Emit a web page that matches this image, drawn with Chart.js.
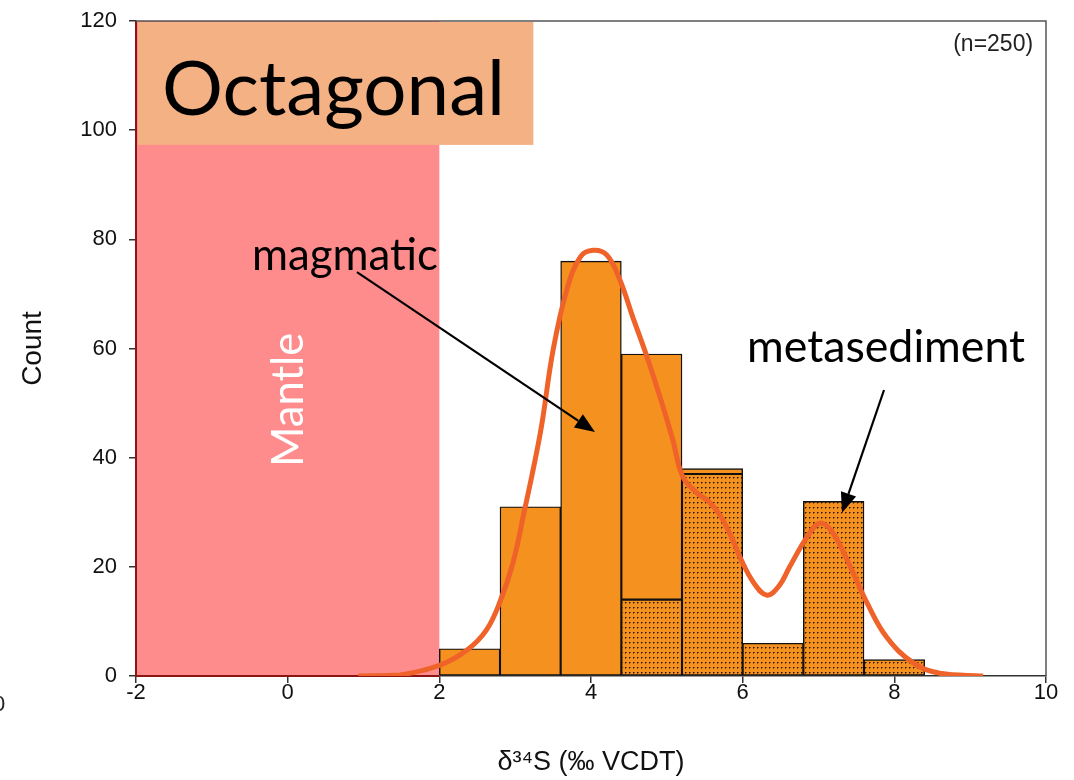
<!DOCTYPE html>
<html>
<head>
<meta charset="utf-8">
<script src="https://cdn.jsdelivr.net/npm/chart.js@4.4.1/dist/chart.umd.min.js"></script>
<style>
  html, body { margin: 0; padding: 0; background: #fff; }
  #wrap { width: 1074px; height: 780px; }
</style>
</head>
<body>
<div id="wrap"><canvas id="chart-octagonal" width="1074" height="780"></canvas></div>
<script>
// histogram, bins of 0.8 permil
const binCentres = [2.4, 3.2, 4.0, 4.8, 5.6, 6.4, 7.2, 8.0];
const countMetased = [null, null, null, 14, 37, 6, 32, 3];
const countMagmatic = [5, 31, 76, 45, 1, null, null, null];

// density curve
const curveX = [0.93, 1.48, 2.01, 2.37, 2.62, 2.80, 2.97, 3.13, 3.24, 3.35, 3.50, 3.68, 3.86, 4.03, 4.21, 4.38, 4.55, 4.74, 4.91, 5.08, 5.21, 5.40, 5.55, 5.70, 5.87, 5.97, 6.15, 6.32, 6.48, 6.62, 6.85, 7.02, 7.19, 7.42, 7.64, 7.90, 8.25, 8.60, 9.17];
const curveY = [0, 0.2, 2.0, 4.8, 8.4, 13.6, 20.7, 30.8, 38.0, 46.0, 59.7, 70.7, 76.8, 78, 77.1, 72.6, 65.8, 58.4, 51.1, 43.2, 36.5, 33.5, 32.0, 29.5, 24.9, 21.6, 17, 14.8, 16.5, 20, 25.5, 28, 26.2, 20, 13.4, 7.1, 2.4, 0.5, 0];

const xTicks = [-2, 0, 2, 4, 6, 8, 10];
const yTicks = [0, 20, 40, 60, 80, 100, 120];
const mantleRange = [-2, 2];
const sampleCount = 250;

const ORANGE = '#F5911E';
const CURVE = '#EF6229';
const PINK = '#FF8C8C';
const BOX = '#F4B183';
const AXISFONT = "'Liberation Sans', Arial, sans-serif";
const NOTEFONT = "Lato, 'Open Sans', sans-serif";

function makeDots() {
    const c = document.createElement('canvas');
    c.width = 4; c.height = 5;
    const g = c.getContext('2d');
    g.fillStyle = ORANGE;
    g.fillRect(0, 0, 4, 5);
    g.fillStyle = '#2a1500';
    g.fillRect(1, 2, 1, 1);
    g.fillStyle = '#8a4e10';
    g.fillRect(2, 2, 1, 1);
    g.fillRect(1, 3, 1, 1);
    return g.createPattern(c, 'repeat');
}

// font size so the text spans a given width
function fitFont(ctx, text, width, family) {
    ctx.font = '100px ' + family;
    const size = 100 * width / ctx.measureText(text).width;
    return size.toFixed(1) + 'px ' + family;
}

function arrow(ctx, x1, y1, x2, y2) {
    const a = Math.atan2(y2 - y1, x2 - x1);
    const len = 20, half = 8;
    const bx = x2 - len * Math.cos(a), by = y2 - len * Math.sin(a);
    ctx.beginPath();
    ctx.moveTo(x1, y1);
    ctx.lineTo(bx, by);
    ctx.stroke();
    ctx.beginPath();
    ctx.moveTo(x2, y2);
    ctx.lineTo(bx + half * Math.sin(a), by - half * Math.cos(a));
    ctx.lineTo(bx - half * Math.sin(a), by + half * Math.cos(a));
    ctx.closePath();
    ctx.fill();
}

const overlay = {
    id: 'overlay',
    beforeDatasetsDraw(chart) {
        const { ctx, scales: { x, y } } = chart;
        const l = x.getPixelForValue(mantleRange[0]), r = x.getPixelForValue(mantleRange[1]);
        const t = y.getPixelForValue(120), b = y.getPixelForValue(0);
        ctx.save();
        ctx.fillStyle = PINK;
        ctx.fillRect(l, t, r - l, b - t);
        ctx.strokeStyle = '#8B1414';
        ctx.lineWidth = 2;
        ctx.beginPath();
        ctx.moveTo(l, t); ctx.lineTo(l, b); ctx.lineTo(r, b);
        ctx.stroke();

        // Mantle label
        ctx.translate(x.getPixelForValue(0.2), y.getPixelForValue(50.6));
        ctx.rotate(-Math.PI / 2);
        ctx.font = fitFont(ctx, 'Mantle', 134, NOTEFONT);
        ctx.fillStyle = '#fff';
        ctx.textAlign = 'center';
        ctx.textBaseline = 'alphabetic';
        ctx.fillText('Mantle', 0, 0);
        ctx.restore();
    },
    afterDatasetsDraw(chart) {
        const { ctx, chartArea: ca, scales: { x, y } } = chart;
        const px = v => x.getPixelForValue(v), py = v => y.getPixelForValue(v);
        ctx.save();

        // plot frame, top and right
        ctx.strokeStyle = '#555';
        ctx.lineWidth = 1.5;
        ctx.beginPath();
        ctx.moveTo(ca.left, ca.top); ctx.lineTo(ca.right, ca.top); ctx.lineTo(ca.right, ca.bottom);
        ctx.stroke();

        // title box
        ctx.fillStyle = BOX;
        const bl = px(-2) + 2, bt = py(120) + 1;
        ctx.fillRect(bl, bt, px(3.24) - bl, py(97.3) - bt);
        ctx.fillStyle = '#000';
        ctx.textBaseline = 'alphabetic';
        ctx.textAlign = 'left';
        ctx.font = fitFont(ctx, 'Octagonal', 343, NOTEFONT);
        ctx.fillText('Octagonal', px(-1.657), py(102.8));

        ctx.font = fitFont(ctx, 'magmatic', 186, NOTEFONT);
        ctx.fillText('magmatic', px(-0.47), py(74.4));
        ctx.font = fitFont(ctx, 'metasediment', 278, NOTEFONT);
        ctx.fillText('metasediment', px(6.057), py(57.5));

        ctx.strokeStyle = '#000';
        ctx.lineWidth = 2.2;
        arrow(ctx, px(0.914), py(74.0), px(4.053), py(44.7));
        arrow(ctx, px(7.864), py(52.4), px(7.31), py(29.9));

        ctx.font = '23px ' + AXISFONT;
        ctx.fillStyle = '#222';
        ctx.textAlign = 'right';
        ctx.textBaseline = 'middle';
        ctx.fillText('(n=' + sampleCount + ')', px(9.83), py(115.6));

        // clipped label of the neighbouring panel
        ctx.textAlign = 'left';
        ctx.font = '22px ' + AXISFONT;
        ctx.fillText('0', -7, 705);
        ctx.restore();
    }
};

const tickFont = { family: AXISFONT, size: 22 };
const dots = makeDots();

new Chart(document.getElementById('chart-octagonal').getContext('2d'), {
    type: 'bar',
    data: {
        datasets: [
            {
                label: 'metasediment',
                data: binCentres.map((c, i) => ({ x: c, y: countMetased[i] })),
                backgroundColor: dots,
                borderColor: '#111',
                borderWidth: 1.4,
                borderSkipped: false,
                barPercentage: 1,
                categoryPercentage: 1,
                stack: 'hist',
                order: 1
            },
            {
                label: 'magmatic',
                data: binCentres.map((c, i) => ({ x: c, y: countMagmatic[i] })),
                backgroundColor: ORANGE,
                borderColor: '#111',
                borderWidth: 1.4,
                borderSkipped: false,
                barPercentage: 1,
                categoryPercentage: 1,
                stack: 'hist',
                order: 1
            },
            {
                type: 'line',
                label: 'density',
                data: curveX.map((v, i) => ({ x: v, y: curveY[i] })),
                borderColor: CURVE,
                borderWidth: 5,
                pointRadius: 0,
                tension: 0.4,
                fill: false,
                order: 0
            }
        ]
    },
    options: {
        responsive: false,
        animation: false,
        devicePixelRatio: 1,
        layout: { padding: { top: 21, right: 28, left: 0, bottom: 0 } },
        plugins: { legend: { display: false }, tooltip: { enabled: false } },
        scales: {
            x: {
                type: 'linear',
                min: -2, max: 10,
                offset: false,
                afterBuildTicks: s => { s.ticks = xTicks.map(v => ({ value: v })); },
                afterFit: s => { s.height = 104; s.paddingLeft = 0; s.paddingRight = 0; },
                grid: { display: true, offset: false, drawOnChartArea: false, drawTicks: true, tickLength: 7, tickColor: '#333', lineWidth: 1.5 },
                border: { display: true, color: '#333', width: 1.5 },
                ticks: { font: tickFont, color: '#111', padding: -3, maxRotation: 0 },
                title: { display: true, text: 'δ³⁴S (‰ VCDT)', font: { family: AXISFONT, size: 27 }, color: '#111', padding: { top: 0, bottom: 1 } }
            },
            y: {
                stacked: true,
                min: 0, max: 120,
                afterBuildTicks: s => { s.ticks = yTicks.map(v => ({ value: v })); },
                afterFit: s => { s.width = 136; s.paddingTop = 0; s.paddingBottom = 0; },
                grid: { display: true, drawOnChartArea: false, drawTicks: true, tickLength: 7, tickColor: '#333', lineWidth: 1.5 },
                border: { display: true, color: '#333', width: 1.5 },
                ticks: { font: tickFont, color: '#111', padding: 12 },
                title: { display: true, text: 'Count', font: { family: AXISFONT, size: 28 }, color: '#111', padding: { top: 16, bottom: 0 } }
            }
        }
    },
    plugins: [overlay]
});
</script>
</body>
</html>
